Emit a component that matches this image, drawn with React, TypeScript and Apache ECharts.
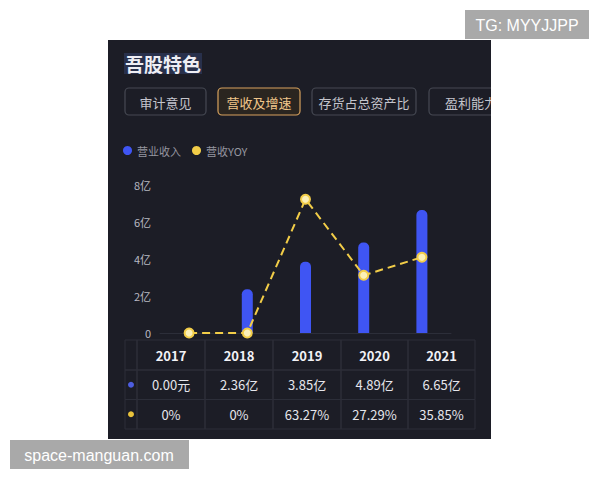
import React, { useEffect, useRef } from "react";
import * as echarts from "echarts";

const years = ["2017", "2018", "2019", "2020", "2021"];
const revenue = [0, 2.36, 3.85, 4.89, 6.65]; // 亿
const yoy = [0, 0, 63.27, 27.29, 35.85]; // %
const tabs = ["审计意见", "营收及增速", "存货占总资产比", "盈利能力"];
const seriesNames = ["营业收入", "营收YOY"];

const FONT = "'Noto Sans CJK SC', 'Noto Sans', sans-serif";
const BLUE = "#3f55f3";
const YELLOW = "#f2cd48";
const PANEL = "#1c1d26";
const LINE = "#2c2e39";

const fmtRev = (v: number) => (v === 0 ? "0.00元" : v.toFixed(2) + "亿");
const fmtYoy = (v: number) => (v === 0 ? "0%" : v.toFixed(2) + "%");

export default function App() {
  const ref = useRef<HTMLDivElement>(null);
  useEffect(() => {
    if (!ref.current) return;
    const chart = echarts.init(ref.current, undefined, { renderer: "svg" });

    const colX = [125, 137, 205, 273, 341, 408, 475];
    const rowY = [340, 370, 399.5, 429];
    const graphic: any[] = [];
    // panel
    graphic.push({ type: "rect", z: -10, shape: { x: 108, y: 40, width: 383, height: 399 }, style: { fill: PANEL } });
    // title highlight + title
    graphic.push({ type: "rect", z: 1, shape: { x: 124, y: 53, width: 78, height: 21 }, style: { fill: "#28304b" } });
    graphic.push({ type: "text", z: 2, x: 125, y: 63, style: { text: "吾股特色", fill: "#eeeef4", font: `bold 19px ${FONT}`, verticalAlign: "middle" } });
    // tabs
    const tabX = [[125, 206], [218, 300], [312, 416], [429, 520]];
    tabs.forEach((t, i) => {
      const active = i === 1;
      const [x0, x1] = tabX[i];
      graphic.push({
        type: "rect", z: 1,
        shape: { x: x0, y: 88, width: x1 - x0, height: 27, r: 4 },
        style: { fill: active ? "#2a2520" : PANEL, stroke: active ? "#d7a25e" : "#464953", lineWidth: 1.2 },
      });
      graphic.push({
        type: "text", z: 2,
        x: i === 3 ? 445 : (x0 + x1) / 2, y: 102,
        style: { text: t, fill: active ? "#f0c58a" : "#c4c4cc", font: `13px ${FONT}`, align: i === 3 ? "left" : "center", verticalAlign: "middle" },
      });
    });
    // table
    for (let r = 0; r < 3; r++) {
      for (let c = 0; c < 6; c++) {
        graphic.push({
          type: "rect", z: 1,
          shape: { x: colX[c], y: rowY[r], width: colX[c + 1] - colX[c], height: rowY[r + 1] - rowY[r] },
          style: { fill: "transparent", stroke: LINE, lineWidth: 1 },
        });
      }
    }
    const rowMid = (r: number) => (rowY[r] + rowY[r + 1]) / 2;
    years.forEach((y, i) => {
      const cx = (colX[i + 1] + colX[i + 2]) / 2;
      graphic.push({ type: "text", z: 2, x: cx, y: rowMid(0), style: { text: y, fill: "#f2f2f6", font: `bold 13px ${FONT}`, align: "center", verticalAlign: "middle" } });
      graphic.push({ type: "text", z: 2, x: cx, y: rowMid(1), style: { text: fmtRev(revenue[i]), fill: "#e6e6ec", font: `13px ${FONT}`, align: "center", verticalAlign: "middle" } });
      graphic.push({ type: "text", z: 2, x: cx, y: rowMid(2), style: { text: fmtYoy(yoy[i]), fill: "#e6e6ec", font: `13px ${FONT}`, align: "center", verticalAlign: "middle" } });
    });
    graphic.push({ type: "circle", z: 2, shape: { cx: 131, cy: rowMid(1), r: 3 }, style: { fill: "#4d5de0" } });
    graphic.push({ type: "circle", z: 2, shape: { cx: 131, cy: rowMid(2), r: 3 }, style: { fill: "#e9c23b" } });
    // cover right of panel (clip tab)
    graphic.push({ type: "rect", z: 50, shape: { x: 491, y: 40, width: 109, height: 400 }, style: { fill: "#ffffff" } });
    // watermarks
    graphic.push({ type: "rect", z: 60, shape: { x: 465, y: 10, width: 124, height: 29 }, style: { fill: "#a9a9a9" } });
    graphic.push({ type: "text", z: 61, x: 527, y: 25, style: { text: "TG: MYYJJPP", fill: "#ffffff", font: "16px 'Liberation Sans', Arial, sans-serif", align: "center", verticalAlign: "middle" } });
    graphic.push({ type: "rect", z: 60, shape: { x: 10, y: 440, width: 179, height: 29 }, style: { fill: "#a9a9a9" } });
    graphic.push({ type: "text", z: 61, x: 99, y: 455, style: { text: "space-manguan.com", fill: "#ffffff", font: "16px 'Liberation Sans', Arial, sans-serif", align: "center", verticalAlign: "middle" } });

    chart.setOption({
      animation: false,
      backgroundColor: "#ffffff",
      textStyle: { fontFamily: FONT },
      legend: {
        left: 123, top: 145, padding: 0, icon: "circle", itemWidth: 9, itemHeight: 9, itemGap: 11,
        textStyle: { color: "#9596a0", fontSize: 11, fontFamily: FONT },
        data: [
          { name: seriesNames[0], itemStyle: { color: BLUE } },
          { name: seriesNames[1], itemStyle: { color: YELLOW, borderWidth: 0 } },
        ],
      },
      grid: { left: 160, right: 149, top: 185, bottom: 147 },
      xAxis: {
        type: "category", data: years,
        axisLine: { lineStyle: { color: LINE } }, axisTick: { show: false }, axisLabel: { show: false },
      },
      yAxis: [
        {
          type: "value", min: 0, max: 8, interval: 2,
          axisLabel: { color: "#b8b9c2", fontSize: 11, margin: 9, formatter: (v: number) => (v === 0 ? "0" : v + "亿") },
          splitLine: { show: false }, axisLine: { show: false }, axisTick: { show: false },
        },
        { type: "value", min: 0, max: 70, show: false, splitLine: { show: false } },
      ],
      series: [
        {
          name: seriesNames[0], type: "bar", data: revenue, barWidth: 11,
          itemStyle: { color: BLUE, borderRadius: [5, 5, 0, 0] },
        },
        {
          name: seriesNames[1], type: "line", yAxisIndex: 1, data: yoy,
          symbol: "circle", symbolSize: 9,
          lineStyle: { color: YELLOW, width: 2, type: [8, 5] },
          itemStyle: { color: "#fbf0b8", borderColor: YELLOW, borderWidth: 2 },
        },
      ],
      graphic,
    });
    return () => chart.dispose();
  }, []);
  return <div ref={ref} style={{ position: "fixed", left: 0, top: 0, width: 600, height: 480 }} />;
}
